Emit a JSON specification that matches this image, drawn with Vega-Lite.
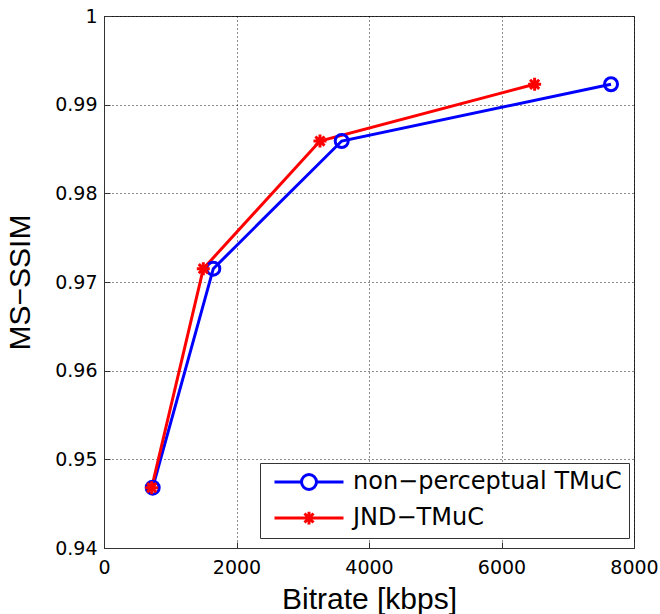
{
  "$schema": "https://vega.github.io/schema/vega-lite/v6.json",
  "autosize": {"type": "none"},
  "width": 530,
  "height": 532,
  "padding": {"left": 104, "top": 16, "right": 26, "bottom": 66},
  "background": "white",
  "config": {
    "view": {"stroke": "#333", "strokeWidth": 1},
    "axis": {
      "grid": true,
      "gridColor": "black",
      "gridDash": [1, 3],
      "gridOpacity": 0.9,
      "domainColor": "#333",
      "tickColor": "#333",
      "tickSize": -6,
      "labelFont": "DejaVu Sans",
      "labelFontSize": 19,
      "labelColor": "black",
      "labelFlush": false,
      "labelOverlap": false,
      "titleFont": "Liberation Sans",
      "titleFontSize": 30,
      "titleFontWeight": "normal",
      "titleColor": "black"
    }
  },
  "data": {
    "values": [
      {"series": "non−perceptual TMuC", "bitrate": 735, "msssim": 0.9468},
      {"series": "non−perceptual TMuC", "bitrate": 1650, "msssim": 0.9715},
      {"series": "non−perceptual TMuC", "bitrate": 3588, "msssim": 0.9859},
      {"series": "non−perceptual TMuC", "bitrate": 7653, "msssim": 0.9923},
      {"series": "JND−TMuC", "bitrate": 720, "msssim": 0.9468},
      {"series": "JND−TMuC", "bitrate": 1499, "msssim": 0.9715},
      {"series": "JND−TMuC", "bitrate": 3260, "msssim": 0.9859},
      {"series": "JND−TMuC", "bitrate": 6500, "msssim": 0.9923}
    ]
  },
  "encoding": {
    "x": {
      "field": "bitrate", "type": "quantitative",
      "scale": {"domain": [0, 8000], "nice": false, "zero": false},
      "axis": {"title": "Bitrate [kbps]", "values": [0, 2000, 4000, 6000, 8000], "format": "d", "labelPadding": 16, "titlePadding": 7}
    },
    "y": {
      "field": "msssim", "type": "quantitative",
      "scale": {"domain": [0.94, 1], "nice": false, "zero": false},
      "axis": {"title": "MS−SSIM", "values": [0.94, 0.95, 0.96, 0.97, 0.98, 0.99, 1], "format": ".2~f", "labelPadding": 13, "titlePadding": 19}
    },
    "color": {
      "field": "series", "type": "nominal",
      "scale": {"domain": ["non−perceptual TMuC", "JND−TMuC"], "range": ["#0000ff", "#ff0000"]},
      "legend": {
        "title": null,
        "orient": "none",
        "legendX": 156,
        "legendY": 447,
        "padding": 7,
        "strokeColor": "#333",
        "fillColor": "white",
        "labelFont": "DejaVu Sans",
        "labelFontSize": 24,
        "labelColor": "black",
        "labelLimit": 400,
        "symbolSize": 225,
        "symbolStrokeWidth": 3,
        "symbolOffset": 30,
        "labelOffset": 32,
        "rowPadding": 9,
        "encode": {
          "symbols": {
            "update": {
              "shape": {"signal": "datum.value === 'JND−TMuC' ? 'M-4.6,0L4.6,0M0,-0.85L0,0.85M-0.6,-0.6L0.6,0.6M-0.6,0.6L0.6,-0.6M-0.85,0L0.85,0' : 'M-4.6,0L-1,0M1,0L4.6,0M1,0A1,1,0,1,1,-1,0A1,1,0,1,1,1,0'"},
              "fill": {"value": "transparent"},
              "strokeWidth": {"value": 3}
            }
          }
        }
      }
    }
  },
  "layer": [
    {
      "mark": {"type": "line", "strokeWidth": 3}
    },
    {
      "transform": [{"filter": "datum.series === 'non−perceptual TMuC'"}],
      "mark": {"type": "point", "filled": false, "strokeWidth": 3, "size": 169, "opacity": 1, "shape": "circle"}
    },
    {
      "transform": [{"filter": "datum.series === 'JND−TMuC'"}],
      "mark": {"type": "point", "filled": false, "strokeWidth": 3, "size": 169, "opacity": 1, "shape": "M-1,0L1,0M0,-1L0,1M-0.7,-0.7L0.7,0.7M-0.7,0.7L0.7,-0.7"}
    }
  ]
}
